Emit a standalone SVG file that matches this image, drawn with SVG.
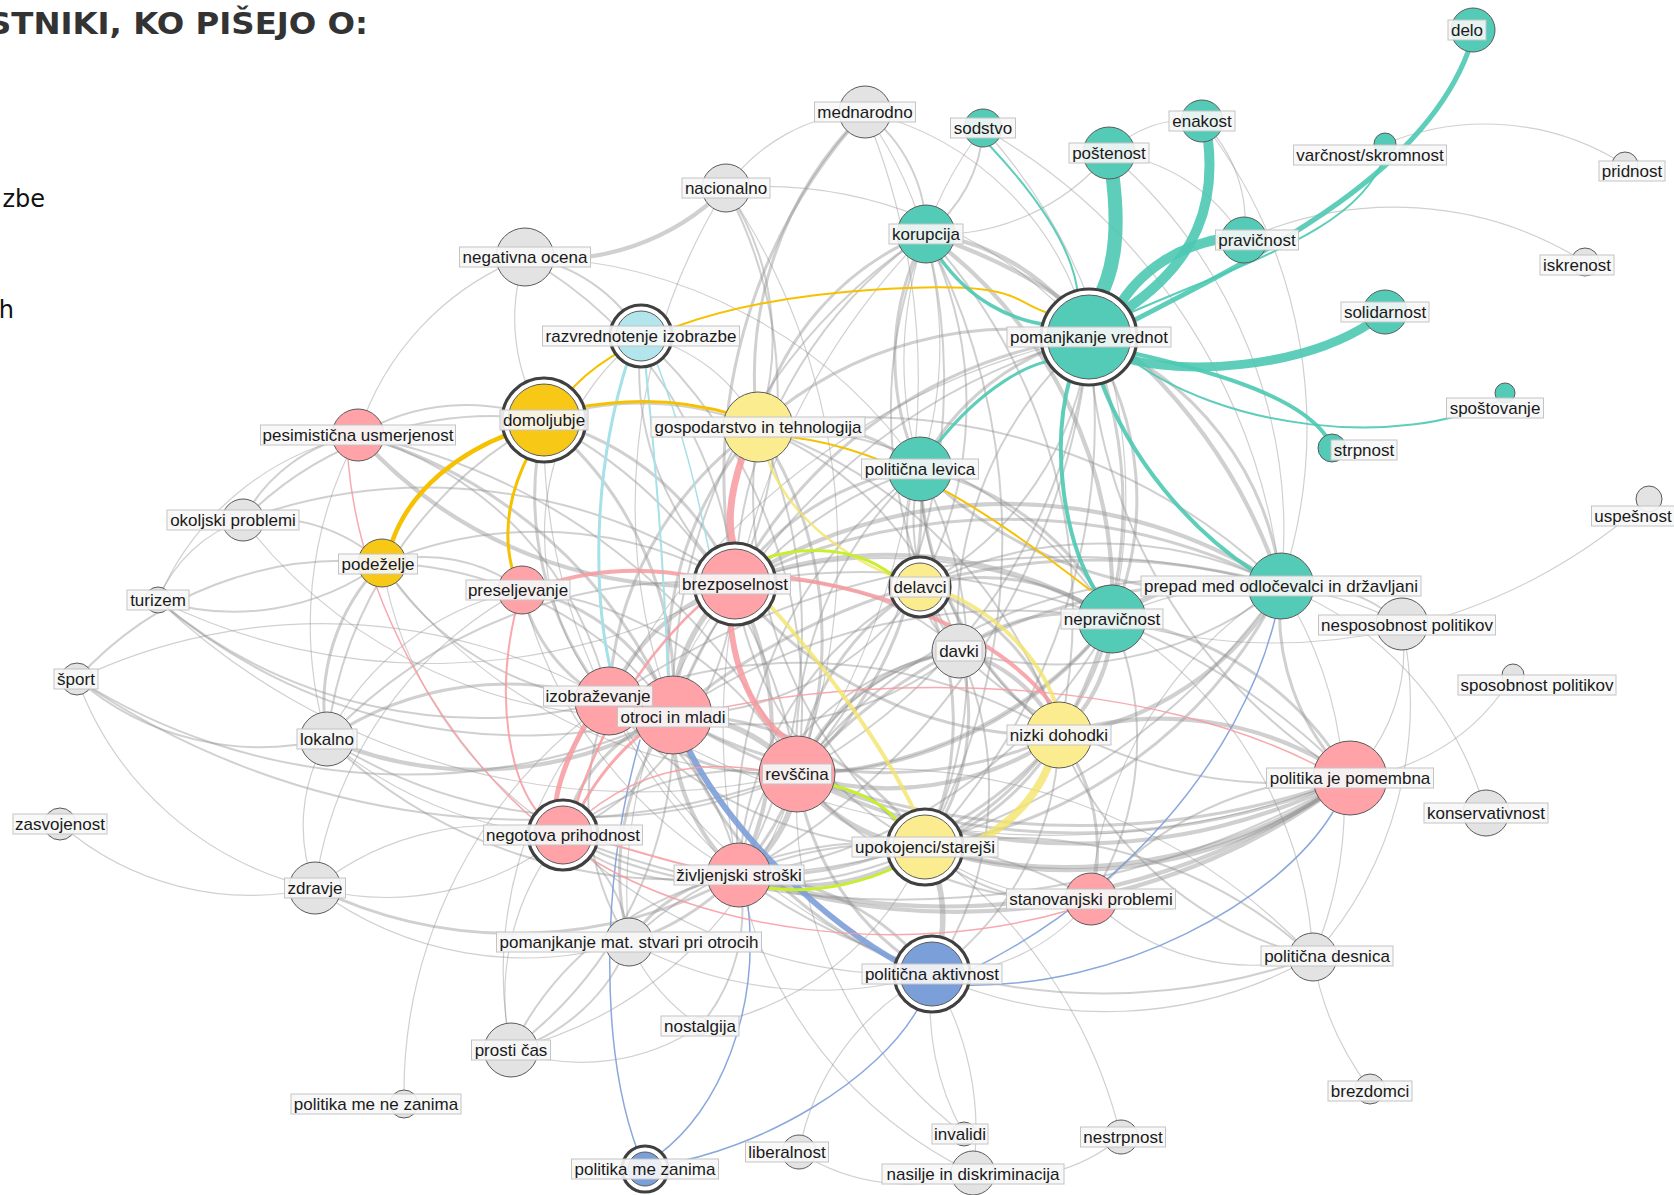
<svg xmlns="http://www.w3.org/2000/svg" width="1674" height="1195" viewBox="0 0 1674 1195">
<style>
.e{fill:none;stroke:#8e8e8e;stroke-opacity:.42}
.g1{stroke-width:1.2}.g2{stroke-width:2}.g3{stroke-width:3}.g4{stroke-width:4.2}.g5{stroke-width:5.5}
.c{fill:none;stroke-linecap:round}
.teal-e{stroke:#4cc9b3;stroke-opacity:.9}
.pink-e{stroke:#f79aa0;stroke-opacity:.85}
.gold-e{stroke:#f5c100}
.ylw-e{stroke:#f2e36a;stroke-opacity:.8}
.lime-e{stroke:#c6ef2d}
.blue-e{stroke:#7d9fd8;stroke-opacity:.9}
.lb-e{stroke:#a6e0e8}
.n{stroke:#5a5a5a;stroke-width:1}
.teal{fill:#53cbb7}.pink{fill:#ffa3a8}.ylw{fill:#fbec90}.gold{fill:#f7c815}.lblue{fill:#b3e5ec}.blue{fill:#7b9fd9}.grey{fill:#e3e3e3}
.ring{fill:#fff;stroke:#404040;stroke-width:3.2}
.lb{fill:#f7f7f7;fill-opacity:.9;stroke:#c4c4c4;stroke-width:1}
.t{font-family:"Liberation Sans",Arial,sans-serif;font-size:17px;fill:#1a1a1a;text-anchor:middle}
</style>
<defs>
<clipPath id="clipIzobr"><path clip-rule="evenodd" d="M0 0H1674V1195H0Z M617 707H729V727H617Z"/></clipPath>
</defs>
<rect width="1674" height="1195" fill="#fff"/>
<text x="-12" y="34" textLength="380" lengthAdjust="spacingAndGlyphs" font-family="DejaVu Sans,Verdana,sans-serif" font-weight="bold" font-size="30" fill="#333">STNIKI, KO PIŠEJO O:</text>
<text x="45" y="207" text-anchor="end" font-family="DejaVu Sans,Verdana,sans-serif" font-size="24" fill="#111">zbe</text>
<text x="14" y="318" text-anchor="end" font-family="DejaVu Sans,Verdana,sans-serif" font-size="24" fill="#111">h</text>
<g id="connectors">
<g class="e g1">
<path d="M932 974A200 200 0 0 0 1091 899"/>
<path d="M932 974A420 420 0 0 0 1313 957"/>
<path d="M563 835A280 280 0 0 0 315 888"/>
<path d="M563 835A280 280 0 0 1 315 888"/>
<path d="M563 835A250 250 0 0 0 511 1050"/>
<path d="M629 942A350 350 0 0 1 315 888"/>
<path d="M511 1050A210 210 0 0 0 700 1026"/>
<path d="M511 1050A400 400 0 0 0 797 774"/>
<path d="M700 1026A300 300 0 0 0 925 847"/>
<path d="M544 420A190 190 0 0 1 525 257"/>
<path d="M358 435A280 280 0 0 0 158 600"/>
<path d="M358 435A280 280 0 0 1 525 257"/>
<path d="M243 520A140 140 0 0 0 158 600"/>
<path d="M158 600A620 620 0 0 0 735 584"/>
<path d="M77 679A330 330 0 0 0 315 888"/>
<path d="M77 679A570 570 0 0 1 609 701"/>
<path d="M327 739A280 280 0 0 1 522 590"/>
<path d="M60 824A290 290 0 0 0 315 888"/>
<path d="M315 888A170 170 0 0 1 327 739"/>
<path d="M315 888A400 400 0 0 1 522 590"/>
<path d="M525 257A490 490 0 0 1 920 469"/>
<path d="M726 188A180 180 0 0 1 865 112"/>
<path d="M726 188A640 640 0 0 1 797 774"/>
<path d="M726 188A430 430 0 0 1 1089 337"/>
<path d="M865 112A400 400 0 0 1 920 469"/>
<path d="M926 234A220 220 0 0 0 1109 153"/>
<path d="M983 128A380 380 0 0 0 920 469"/>
<path d="M983 128A550 550 0 0 1 1112 619"/>
<path d="M983 128A600 600 0 0 1 1281 586"/>
<path d="M1109 153A110 110 0 0 1 1202 121"/>
<path d="M1109 153A180 180 0 0 1 1244 240"/>
<path d="M1109 153A500 500 0 0 1 1281 586"/>
<path d="M1202 121A140 140 0 0 1 1244 240"/>
<path d="M1202 121A500 500 0 0 1 1281 586"/>
<path d="M1244 240A360 360 0 0 1 1585 262"/>
<path d="M1385 144A260 260 0 0 1 1625 165"/>
<path d="M641 336A170 170 0 0 1 758 427"/>
<path d="M1281 586A340 340 0 0 1 1486 813"/>
<path d="M1281 586A400 400 0 0 1 1313 957"/>
<path d="M1402 624A180 180 0 0 1 1350 778"/>
<path d="M1402 624A320 320 0 0 0 1112 619"/>
<path d="M1402 624A380 380 0 0 1 1313 957"/>
<path d="M1513 675A210 210 0 0 1 1350 778"/>
<path d="M1649 499A560 560 0 0 1 1112 619"/>
<path d="M1313 957A300 300 0 0 0 1370 1089"/>
<path d="M1313 957A420 420 0 0 0 1112 619"/>
<path d="M1313 957A600 600 0 0 0 797 774"/>
<path d="M964 1134A420 420 0 0 1 797 774"/>
<path d="M973 1173A430 430 0 0 1 739 875"/>
<path d="M973 1173A200 200 0 0 1 799 1152"/>
<path d="M1121 1137A170 170 0 0 1 973 1173"/>
<path d="M404 1104A480 480 0 0 1 609 701"/>
<path d="M1350 778A800 800 0 0 1 609 701"/>
<path d="M926 234A700 700 0 0 0 739 875"/>
<path d="M1089 337A700 700 0 0 0 609 701"/>
<path d="M609 701A600 600 0 0 0 932 974"/>
<path d="M609 701A400 400 0 0 0 511 1050"/>
<path d="M629 942A500 500 0 0 1 735 584"/>
<path d="M629 942A200 200 0 0 0 700 1026"/>
<path d="M1091 899A400 400 0 0 1 1281 586"/>
<path d="M1091 899A230 230 0 0 0 1313 957"/>
<path d="M932 974A500 500 0 0 1 563 835"/>
<path d="M932 974A400 400 0 0 1 629 942"/>
<path d="M932 974A250 250 0 0 0 799 1152"/>
<path d="M932 974A300 300 0 0 1 973 1173"/>
<path d="M932 974A260 260 0 0 0 964 1134"/>
<path d="M327 739A400 400 0 0 0 563 835"/>
<path d="M158 600A700 700 0 0 0 797 774"/>
<path d="M382 563A500 500 0 0 0 797 774"/>
<path d="M382 563A400 400 0 0 0 563 835"/>
<path d="M522 590A450 450 0 0 0 739 875"/>
<path d="M544 420A600 600 0 0 0 739 875"/>
<path d="M358 435A400 400 0 0 0 327 739"/>
<path d="M243 520A500 500 0 0 0 673 715"/>
<path d="M641 336A250 250 0 0 0 609 701"/>
<path d="M726 188A600 600 0 0 0 673 715"/>
<path d="M865 112A700 700 0 0 1 797 774"/>
<path d="M865 112A300 300 0 0 1 1089 337"/>
<path d="M1091 899A260 260 0 0 1 925 847"/>
<path d="M1121 1137A500 500 0 0 0 925 847"/>
</g>
<g class="e g2">
<path d="M1089 337A560 560 0 0 1 797 774"/>
<path d="M1089 337A370 370 0 0 0 959 651"/>
<path d="M758 427A340 340 0 0 1 959 651"/>
<path d="M758 427A470 470 0 0 1 1059 735"/>
<path d="M735 584A260 260 0 0 1 959 651"/>
<path d="M673 715A400 400 0 0 1 511 1050"/>
<path d="M609 701A240 240 0 0 1 739 875"/>
<path d="M797 774A350 350 0 0 0 1091 899"/>
<path d="M739 875A200 200 0 0 1 563 835"/>
<path d="M739 875A320 320 0 0 0 511 1050"/>
<path d="M739 875A390 390 0 0 1 1091 899"/>
<path d="M739 875A620 620 0 0 0 1313 957"/>
<path d="M739 875A180 180 0 0 1 700 1026"/>
<path d="M925 847A200 200 0 0 0 1091 899"/>
<path d="M925 847A440 440 0 0 1 1313 957"/>
<path d="M1059 735A370 370 0 0 0 1313 957"/>
<path d="M920 587A140 140 0 0 1 920 469"/>
<path d="M920 587A90 90 0 0 0 959 651"/>
<path d="M1091 899A330 330 0 0 1 1350 778"/>
<path d="M563 835A140 140 0 0 1 629 942"/>
<path d="M629 942A180 180 0 0 1 511 1050"/>
<path d="M544 420A210 210 0 0 0 358 435"/>
<path d="M544 420A420 420 0 0 0 327 739"/>
<path d="M544 420A350 350 0 0 0 243 520"/>
<path d="M544 420A480 480 0 0 1 797 774"/>
<path d="M358 435A160 160 0 0 0 243 520"/>
<path d="M358 435A620 620 0 0 1 797 774"/>
<path d="M243 520A170 170 0 0 1 382 563"/>
<path d="M243 520A540 540 0 0 1 735 584"/>
<path d="M382 563A250 250 0 0 1 158 600"/>
<path d="M382 563A360 360 0 0 0 77 679"/>
<path d="M382 563A160 160 0 0 1 522 590"/>
<path d="M382 563A370 370 0 0 1 673 715"/>
<path d="M382 563A300 300 0 0 0 609 701"/>
<path d="M158 600A560 560 0 0 0 673 715"/>
<path d="M77 679A280 280 0 0 0 327 739"/>
<path d="M77 679A620 620 0 0 0 673 715"/>
<path d="M327 739A500 500 0 0 0 797 774"/>
<path d="M525 257A160 160 0 0 1 641 336"/>
<path d="M525 257A420 420 0 0 1 735 584"/>
<path d="M726 188A270 270 0 0 1 758 427"/>
<path d="M726 188A440 440 0 0 1 735 584"/>
<path d="M865 112A150 150 0 0 1 926 234"/>
<path d="M926 234A140 140 0 0 0 983 128"/>
<path d="M926 234A440 440 0 0 0 735 584"/>
<path d="M926 234A600 600 0 0 1 797 774"/>
<path d="M926 234A560 560 0 0 1 1059 735"/>
<path d="M926 234A380 380 0 0 1 920 587"/>
<path d="M926 234A460 460 0 0 0 959 651"/>
<path d="M641 336A290 290 0 0 0 735 584"/>
<path d="M641 336A500 500 0 0 1 797 774"/>
<path d="M1089 337A620 620 0 0 1 925 847"/>
<path d="M1089 337A680 680 0 0 1 739 875"/>
<path d="M1089 337A540 540 0 0 0 1350 778"/>
<path d="M1089 337A320 320 0 0 1 920 587"/>
<path d="M920 469A210 210 0 0 0 959 651"/>
<path d="M920 469A420 420 0 0 1 925 847"/>
<path d="M920 469A380 380 0 0 0 673 715"/>
<path d="M1281 586A150 150 0 0 1 1402 624"/>
<path d="M1281 586A680 680 0 0 1 739 875"/>
<path d="M1281 586A360 360 0 0 1 959 651"/>
<path d="M1350 778A680 680 0 0 0 735 584"/>
<path d="M1350 778A460 460 0 0 1 959 651"/>
<path d="M735 584A450 450 0 0 1 1112 619"/>
<path d="M797 774A500 500 0 0 1 1281 586"/>
<path d="M797 774A220 220 0 0 1 959 651"/>
<path d="M563 835A900 900 0 0 0 1350 778"/>
<path d="M1059 735A300 300 0 0 1 932 974"/>
<path d="M1112 619A500 500 0 0 1 739 875"/>
<path d="M1112 619A600 600 0 0 0 673 715"/>
<path d="M1281 586A800 800 0 0 0 609 701"/>
<path d="M797 774A380 380 0 0 1 920 469"/>
<path d="M920 469A450 450 0 0 0 739 875"/>
<path d="M920 469A330 330 0 0 0 1059 735"/>
<path d="M758 427A500 500 0 0 1 739 875"/>
<path d="M758 427A450 450 0 0 0 925 847"/>
<path d="M758 427A420 420 0 0 1 1112 619"/>
<path d="M758 427A600 600 0 0 1 1281 586"/>
<path d="M926 234A650 650 0 0 1 925 847"/>
<path d="M926 234A560 560 0 0 0 673 715"/>
<path d="M1089 337A620 620 0 0 0 673 715"/>
<path d="M959 651A260 260 0 0 0 739 875"/>
<path d="M959 651A330 330 0 0 1 673 715"/>
<path d="M959 651A330 330 0 0 1 932 974"/>
<path d="M920 587A340 340 0 0 0 739 875"/>
<path d="M920 587A300 300 0 0 1 673 715"/>
<path d="M920 587A400 400 0 0 1 1281 586"/>
<path d="M609 701A500 500 0 0 1 1059 735"/>
<path d="M609 701A400 400 0 0 0 925 847"/>
<path d="M609 701A260 260 0 0 0 629 942"/>
<path d="M563 835A300 300 0 0 1 797 774"/>
<path d="M563 835A300 300 0 0 0 735 584"/>
<path d="M563 835A400 400 0 0 0 925 847"/>
<path d="M629 942A350 350 0 0 1 925 847"/>
<path d="M1091 899A300 300 0 0 0 1112 619"/>
<path d="M327 739A500 500 0 0 0 739 875"/>
<path d="M327 739A500 500 0 0 1 735 584"/>
<path d="M77 679A800 800 0 0 0 797 774"/>
<path d="M158 600A500 500 0 0 0 609 701"/>
<path d="M382 563A400 400 0 0 1 735 584"/>
<path d="M522 590A350 350 0 0 1 797 774"/>
<path d="M358 435A350 350 0 0 1 609 701"/>
<path d="M544 420A300 300 0 0 1 758 427"/>
<path d="M735 584A350 350 0 0 0 925 847"/>
</g>
<g class="e g3">
<path d="M926 234A260 260 0 0 0 920 469"/>
<path d="M920 469A280 280 0 0 1 1112 619"/>
<path d="M920 469A420 420 0 0 0 1281 586"/>
<path d="M758 427A190 190 0 0 1 920 469"/>
<path d="M959 651A220 220 0 0 1 925 847"/>
<path d="M1350 778A230 230 0 0 1 1281 586"/>
<path d="M1350 778A320 320 0 0 0 1112 619"/>
<path d="M1281 586A580 580 0 0 0 797 774"/>
<path d="M1281 586A480 480 0 0 1 925 847"/>
<path d="M1112 619A400 400 0 0 1 797 774"/>
<path d="M1112 619A180 180 0 0 0 959 651"/>
<path d="M1089 337A250 250 0 0 0 920 469"/>
<path d="M1089 337A470 470 0 0 0 735 584"/>
<path d="M1089 337A380 380 0 0 0 758 427"/>
<path d="M1089 337A440 440 0 0 1 1059 735"/>
<path d="M758 427A380 380 0 0 1 797 774"/>
<path d="M758 427A340 340 0 0 0 673 715"/>
<path d="M758 427A350 350 0 0 0 609 701"/>
<path d="M735 584A280 280 0 0 0 544 420"/>
<path d="M673 715A420 420 0 0 0 1059 735"/>
<path d="M673 715A300 300 0 0 1 925 847"/>
<path d="M673 715A260 260 0 0 0 629 942"/>
<path d="M609 701A320 320 0 0 0 327 739"/>
<path d="M609 701A160 160 0 0 1 522 590"/>
<path d="M609 701A230 230 0 0 0 797 774"/>
<path d="M609 701A320 320 0 0 1 544 420"/>
<path d="M797 774A250 250 0 0 1 920 587"/>
<path d="M797 774A260 260 0 0 1 629 942"/>
<path d="M797 774A360 360 0 0 0 920 469"/>
<path d="M739 875A390 390 0 0 0 1059 735"/>
<path d="M739 875A150 150 0 0 0 629 942"/>
<path d="M739 875A460 460 0 0 1 315 888"/>
<path d="M925 847A290 290 0 0 0 920 587"/>
<path d="M1059 735A190 190 0 0 1 1091 899"/>
<path d="M1059 735A340 340 0 0 1 920 469"/>
<path d="M920 587A220 220 0 0 1 1112 619"/>
<path d="M932 974A270 270 0 0 1 797 774"/>
<path d="M544 420A350 350 0 0 1 673 715"/>
<path d="M358 435A480 480 0 0 1 673 715"/>
<path d="M382 563A200 200 0 0 0 327 739"/>
<path d="M865 112A370 370 0 0 0 758 427"/>
<path d="M865 112A540 540 0 0 0 735 584"/>
<path d="M926 234A280 280 0 0 0 758 427"/>
<path d="M920 469A260 260 0 0 0 735 584"/>
<path d="M1281 586A660 660 0 0 0 673 715"/>
<path d="M735 584A400 400 0 0 0 1059 735"/>
<path d="M735 584A600 600 0 0 1 1281 586"/>
<path d="M797 774A420 420 0 0 0 1112 619"/>
<path d="M797 774A700 700 0 0 0 1350 778"/>
<path d="M673 715A800 800 0 0 0 1350 778"/>
<path d="M1059 735A250 250 0 0 1 925 847"/>
<path d="M1112 619A350 350 0 0 1 925 847"/>
<path d="M1089 337A300 300 0 0 1 1112 619"/>
<path d="M1089 337A300 300 0 0 1 1281 586"/>
<path d="M920 587A200 200 0 0 1 1059 735"/>
<path d="M673 715A400 400 0 0 0 932 974"/>
<path d="M563 835A160 160 0 0 1 673 715"/>
<path d="M932 974A250 250 0 0 0 739 875"/>
<path d="M522 590A200 200 0 0 1 673 715"/>
</g>
<g class="e g4">
<path d="M673 715A200 200 0 0 0 739 875"/>
<path d="M797 774A300 300 0 0 0 1059 735"/>
<path d="M926 234A220 220 0 0 1 1089 337"/>
<path d="M926 234A450 450 0 0 1 1112 619"/>
<path d="M926 234A550 550 0 0 1 1281 586"/>
<path d="M959 651A150 150 0 0 1 1059 735"/>
<path d="M959 651A210 210 0 0 0 797 774"/>
<path d="M925 847A210 210 0 0 1 739 875"/>
<path d="M1350 778A330 330 0 0 0 1059 735"/>
<path d="M1350 778A600 600 0 0 1 797 774"/>
<path d="M1350 778A470 470 0 0 1 925 847"/>
<path d="M1281 586A300 300 0 0 1 1059 735"/>
<path d="M1281 586A500 500 0 0 0 735 584"/>
<path d="M1112 619A420 420 0 0 0 735 584"/>
<path d="M1112 619A150 150 0 0 1 1059 735"/>
<path d="M735 584A200 200 0 0 0 609 701"/>
<path d="M735 584A320 320 0 0 1 739 875"/>
<path d="M735 584A450 450 0 0 1 358 435"/>
<path d="M673 715A380 380 0 0 1 327 739"/>
<path d="M609 701A80 80 0 0 1 673 715"/>
<path d="M525 257A240 240 0 0 0 726 188"/>
<path d="M739 875A700 700 0 0 0 1350 778"/>
<path d="M925 847A500 500 0 0 0 1350 778"/>
<path d="M1350 778A650 650 0 0 1 739 875"/>
</g>
<g class="e g5">
<path d="M673 715A160 160 0 0 1 797 774"/>
<path d="M797 774A130 130 0 0 1 739 875"/>
<path d="M797 774A170 170 0 0 0 925 847"/>
<path d="M1112 619A200 200 0 0 1 1281 586"/>
<path d="M925 847A150 150 0 0 1 932 974"/>
<path d="M735 584A170 170 0 0 0 673 715"/>
</g>
<g class="c lb-e">
<path stroke-width="3" d="M628 360C590 480 595 600 610 667"/>
<path stroke-width="2" d="M645 361C660 500 665 600 668 676"/>
<path stroke-width="1.5" d="M655 358C690 450 700 510 710 555"/>
</g>
<g class="c blue-e">
<path stroke-width="6" d="M690 752C730 830 820 920 905 966"/>
<path stroke-width="1.5" d="M920 1005C880 1080 760 1150 660 1165"/>
<path stroke-width="1.5" d="M640 740C600 880 600 1050 638 1152"/>
<path stroke-width="1.5" d="M748 905C760 1010 720 1110 658 1155"/>
<path stroke-width="1.5" d="M1275 619C1240 760 1120 900 960 975"/>
<path stroke-width="1.5" d="M1333 812C1280 900 1120 990 960 985"/>
</g>
<g class="c pink-e">
<path stroke-width="7" d="M742 458C728 500 728 530 735 550"/>
<path stroke-width="6" d="M730 618C735 680 760 720 785 738"/>
<path stroke-width="4" d="M768 575C900 590 1000 640 1050 702"/>
<path stroke-width="4" d="M702 578C640 565 590 570 545 585"/>
<path stroke-width="2.5" d="M575 808C610 700 660 640 705 600"/>
<path stroke-width="5" d="M585 725C560 770 555 800 556 808"/>
<path stroke-width="2" d="M515 614C495 700 510 780 540 815"/>
<path stroke-width="1.5" d="M348 460C360 600 440 740 540 825"/>
<path stroke-width="3" d="M640 735C610 760 590 790 580 810"/>
<path stroke-width="1.5" d="M710 710C900 670 1150 680 1316 765"/>
<path stroke-width="1.5" d="M585 855C700 930 900 960 1070 910"/>
<path stroke-width="2" d="M708 870C660 860 620 845 592 840"/>
<path stroke-width="1.5" d="M585 815C640 770 700 760 760 770"/>
</g>
<g class="c ylw-e">
<path stroke-width="2.5" d="M768 460C790 520 850 560 898 578"/>
<path stroke-width="4" d="M765 600C820 660 880 740 915 812"/>
<path stroke-width="4" d="M944 592C1000 615 1040 660 1055 702"/>
<path stroke-width="8" d="M1048 767C1030 810 990 840 955 850"/>
</g>
<g class="c lime-e">
<path stroke-width="3" d="M760 560C800 545 860 545 898 580"/>
<path stroke-width="3" d="M832 785C870 795 890 810 900 825"/>
<path stroke-width="3" d="M768 888C820 895 870 880 900 865"/>
</g>
<g class="c gold-e">
<path stroke-width="2" d="M566 396C610 340 720 300 870 290S1010 300 1045 312"/>
<path stroke-width="4.5" d="M520 430C460 450 410 490 392 542"/>
<path stroke-width="3" d="M530 452C505 500 505 540 512 568"/>
<path stroke-width="3" d="M575 408Q660 392 735 415"/>
<path stroke-width="2" d="M790 437C900 450 1000 520 1090 590"/>
</g>
<g class="c teal-e">
<path stroke-width="14" d="M1112 172C1120 230 1115 270 1098 300"/>
<path stroke-width="10" d="M1208 140C1215 200 1200 260 1125 310"/>
<path stroke-width="10" d="M1225 238C1180 245 1140 270 1118 308"/>
<path stroke-width="9" d="M1125 358C1180 375 1300 370 1372 322"/>
<path stroke-width="5" d="M1125 325C1250 260 1420 180 1468 52"/>
<path stroke-width="2" d="M1118 318C1250 260 1360 230 1385 155"/>
<path stroke-width="4" d="M1128 352C1230 375 1300 400 1326 436"/>
<path stroke-width="2" d="M1125 355C1220 430 1400 450 1500 400"/>
<path stroke-width="3.5" d="M940 258C970 300 1010 320 1048 325"/>
<path stroke-width="2" d="M990 146C1050 210 1075 260 1078 296"/>
<path stroke-width="3" d="M938 443C980 390 1030 360 1060 360"/>
<path stroke-width="4" d="M1070 378C1050 450 1065 540 1095 590"/>
<path stroke-width="4" d="M1100 378C1130 460 1190 530 1255 572"/>
</g>
</g>
<g id="nodes">
<g id="node-pomanjkanje-vrednot"><circle class="ring" cx="1089" cy="337" r="48"/><circle class="n teal" cx="1089" cy="337" r="42"/><rect class="lb" x="1007" y="327" width="164" height="20"/><text class="t" x="1089" y="343">pomanjkanje vrednot</text></g>
<g id="node-otroci-in-mladi"><circle class="n pink" cx="673" cy="715" r="39"/><rect class="lb" x="617.5" y="707" width="111" height="20"/><text class="t" x="673" y="723">otroci in mladi</text></g>
<g id="node-izobrazevanje"><circle class="n pink" cx="609" cy="701" r="34" clip-path="url(#clipIzobr)"/><rect class="lb" x="543.5" y="686" width="109" height="20"/><text class="t" x="598" y="702">izobraževanje</text></g>
<g id="node-revscina"><circle class="n pink" cx="797" cy="774" r="38"/><rect class="lb" x="762.5" y="764" width="69" height="20"/><text class="t" x="797" y="780">revščina</text></g>
<g id="node-politika-je-pomembna"><circle class="n pink" cx="1350" cy="778" r="37"/><rect class="lb" x="1266.5" y="768" width="167" height="20"/><text class="t" x="1350" y="784">politika je pomembna</text></g>
<g id="node-gospodarstvo"><circle class="n ylw" cx="758" cy="427" r="35"/><rect class="lb" x="651" y="417" width="214" height="20"/><text class="t" x="758" y="433">gospodarstvo in tehnologija</text></g>
<g id="node-brezposelnost"><circle class="ring" cx="735" cy="584" r="41"/><circle class="n pink" cx="735" cy="584" r="35"/><rect class="lb" x="679.5" y="574" width="111" height="20"/><text class="t" x="735" y="590">brezposelnost</text></g>
<g id="node-domoljubje"><circle class="ring" cx="544" cy="420" r="42"/><circle class="n gold" cx="544" cy="420" r="36"/><rect class="lb" x="500" y="410" width="88" height="20"/><text class="t" x="544" y="426">domoljubje</text></g>
<g id="node-nepravicnost"><circle class="n teal" cx="1112" cy="619" r="34"/><rect class="lb" x="1061" y="609" width="102" height="20"/><text class="t" x="1112" y="625">nepravičnost</text></g>
<g id="node-prepad"><circle class="n teal" cx="1281" cy="586" r="33"/><rect class="lb" x="1141" y="576" width="280" height="20"/><text class="t" x="1281" y="592">prepad med odločevalci in državljani</text></g>
<g id="node-nizki-dohodki"><circle class="n ylw" cx="1059" cy="735" r="33"/><rect class="lb" x="1007" y="725" width="104" height="20"/><text class="t" x="1059" y="741">nizki dohodki</text></g>
<g id="node-politicna-levica"><circle class="n teal" cx="920" cy="469" r="32"/><rect class="lb" x="861.5" y="459" width="117" height="20"/><text class="t" x="920" y="475">politična levica</text></g>
<g id="node-upokojenci"><circle class="ring" cx="925" cy="847" r="38"/><circle class="n ylw" cx="925" cy="847" r="32"/><rect class="lb" x="852" y="837" width="146" height="20"/><text class="t" x="925" y="853">upokojenci/starejši</text></g>
<g id="node-zivljenjski-stroski"><circle class="n pink" cx="739" cy="875" r="32"/><rect class="lb" x="674" y="865" width="130" height="20"/><text class="t" x="739" y="881">življenjski stroški</text></g>
<g id="node-politicna-aktivnost"><circle class="ring" cx="932" cy="974" r="38"/><circle class="n blue" cx="932" cy="974" r="32"/><rect class="lb" x="862" y="964" width="140" height="20"/><text class="t" x="932" y="980">politična aktivnost</text></g>
<g id="node-korupcija"><circle class="n teal" cx="926" cy="234" r="29"/><rect class="lb" x="889" y="224" width="74" height="20"/><text class="t" x="926" y="240">korupcija</text></g>
<g id="node-negativna-ocena"><circle class="n grey" cx="525" cy="257" r="29"/><rect class="lb" x="459.5" y="247" width="131" height="20"/><text class="t" x="525" y="263">negativna ocena</text></g>
<g id="node-negotova-prihodnost"><circle class="ring" cx="563" cy="835" r="35"/><circle class="n pink" cx="563" cy="835" r="29"/><rect class="lb" x="483.5" y="825" width="159" height="20"/><text class="t" x="563" y="841">negotova prihodnost</text></g>
<g id="node-davki"><circle class="n grey" cx="959" cy="651" r="27"/><rect class="lb" x="936" y="641" width="46" height="20"/><text class="t" x="959" y="657">davki</text></g>
<g id="node-lokalno"><circle class="n grey" cx="327" cy="739" r="27"/><rect class="lb" x="297" y="729" width="60" height="20"/><text class="t" x="327" y="745">lokalno</text></g>
<g id="node-prosti-cas"><circle class="n grey" cx="511" cy="1050" r="27"/><rect class="lb" x="471.5" y="1040" width="79" height="20"/><text class="t" x="511" y="1056">prosti čas</text></g>
<g id="node-postenost"><circle class="n teal" cx="1109" cy="153" r="26"/><rect class="lb" x="1069" y="143" width="80" height="20"/><text class="t" x="1109" y="159">poštenost</text></g>
<g id="node-mednarodno"><circle class="n grey" cx="865" cy="112" r="26"/><rect class="lb" x="814.5" y="102" width="101" height="20"/><text class="t" x="865" y="118">mednarodno</text></g>
<g id="node-pesimisticna"><circle class="n pink" cx="358" cy="435" r="26"/><rect class="lb" x="260.5" y="425" width="195" height="20"/><text class="t" x="358" y="441">pesimistična usmerjenost</text></g>
<g id="node-nesposobnost"><circle class="n grey" cx="1402" cy="624" r="26"/><rect class="lb" x="1318.5" y="615" width="177" height="20"/><text class="t" x="1407" y="631">nesposobnost politikov</text></g>
<g id="node-zdravje"><circle class="n grey" cx="315" cy="888" r="26"/><rect class="lb" x="284.5" y="878" width="61" height="20"/><text class="t" x="315" y="894">zdravje</text></g>
<g id="node-stanovanjski"><circle class="n pink" cx="1091" cy="899" r="26"/><rect class="lb" x="1006.5" y="889" width="169" height="20"/><text class="t" x="1091" y="905">stanovanjski problemi</text></g>
<g id="node-razvrednotenje"><circle class="ring" cx="641" cy="336" r="31"/><circle class="n lblue" cx="641" cy="336" r="25"/><rect class="lb" x="542.5" y="326" width="197" height="20"/><text class="t" x="641" y="342">razvrednotenje izobrazbe</text></g>
<g id="node-nacionalno"><circle class="n grey" cx="726" cy="188" r="24"/><rect class="lb" x="682" y="178" width="88" height="20"/><text class="t" x="726" y="194">nacionalno</text></g>
<g id="node-podezelje"><circle class="n gold" cx="382" cy="563" r="24"/><rect class="lb" x="338.5" y="554" width="79" height="20"/><text class="t" x="378" y="570">podeželje</text></g>
<g id="node-preseljevanje"><circle class="n pink" cx="522" cy="590" r="24"/><rect class="lb" x="466" y="580" width="104" height="20"/><text class="t" x="518" y="596">preseljevanje</text></g>
<g id="node-delavci"><circle class="ring" cx="920" cy="587" r="30"/><circle class="n ylw" cx="920" cy="587" r="24"/><rect class="lb" x="890.5" y="577" width="59" height="20"/><text class="t" x="920" y="593">delavci</text></g>
<g id="node-pomanjkanje-mat"><circle class="n grey" cx="629" cy="942" r="24"/><rect class="lb" x="496.5" y="932" width="265" height="20"/><text class="t" x="629" y="948">pomanjkanje mat. stvari pri otrocih</text></g>
<g id="node-politicna-desnica"><circle class="n grey" cx="1313" cy="957" r="24"/><rect class="lb" x="1261" y="946" width="132" height="20"/><text class="t" x="1327" y="962">politična desnica</text></g>
<g id="node-pravicnost"><circle class="n teal" cx="1244" cy="240" r="23"/><rect class="lb" x="1215.5" y="230" width="83" height="20"/><text class="t" x="1257" y="246">pravičnost</text></g>
<g id="node-konservativnost"><circle class="n grey" cx="1486" cy="813" r="23"/><rect class="lb" x="1424" y="803" width="124" height="20"/><text class="t" x="1486" y="819">konservativnost</text></g>
<g id="node-solidarnost"><circle class="n teal" cx="1385" cy="312" r="22"/><rect class="lb" x="1341" y="302" width="88" height="20"/><text class="t" x="1385" y="318">solidarnost</text></g>
<g id="node-delo"><circle class="n teal" cx="1473" cy="30" r="22"/><rect class="lb" x="1448" y="20" width="38" height="20"/><text class="t" x="1467" y="36">delo</text></g>
<g id="node-nasilje"><circle class="n grey" cx="973" cy="1173" r="22"/><rect class="lb" x="882" y="1164" width="182" height="20"/><text class="t" x="973" y="1180">nasilje in diskriminacija</text></g>
<g id="node-enakost"><circle class="n teal" cx="1202" cy="121" r="21"/><rect class="lb" x="1169" y="111" width="66" height="20"/><text class="t" x="1202" y="127">enakost</text></g>
<g id="node-okoljski"><circle class="n grey" cx="243" cy="520" r="21"/><rect class="lb" x="167" y="510" width="132" height="20"/><text class="t" x="233" y="526">okoljski problemi</text></g>
<g id="node-sodstvo"><circle class="n teal" cx="983" cy="128" r="19"/><rect class="lb" x="950.5" y="118" width="65" height="20"/><text class="t" x="983" y="134">sodstvo</text></g>
<g id="node-politika-me-zanima"><circle class="ring" cx="645" cy="1169" r="23"/><circle class="n blue" cx="645" cy="1169" r="17"/><rect class="lb" x="571.5" y="1159" width="147" height="20"/><text class="t" x="645" y="1175">politika me zanima</text></g>
<g id="node-nestrpnost"><circle class="n grey" cx="1121" cy="1137" r="17"/><rect class="lb" x="1080.5" y="1127" width="85" height="20"/><text class="t" x="1123" y="1143">nestrpnost</text></g>
<g id="node-liberalnost"><circle class="n grey" cx="799" cy="1152" r="17"/><rect class="lb" x="745.5" y="1142" width="83" height="20"/><text class="t" x="787" y="1158">liberalnost</text></g>
<g id="node-sport"><circle class="n grey" cx="77" cy="679" r="16"/><rect class="lb" x="54" y="669" width="44" height="20"/><text class="t" x="76" y="685">šport</text></g>
<g id="node-zasvojenost"><circle class="n grey" cx="60" cy="824" r="16"/><rect class="lb" x="13" y="814" width="94" height="20"/><text class="t" x="60" y="830">zasvojenost</text></g>
<g id="node-brezdomci"><circle class="n grey" cx="1370" cy="1089" r="15"/><rect class="lb" x="1328" y="1081" width="84" height="20"/><text class="t" x="1370" y="1097">brezdomci</text></g>
<g id="node-strpnost"><circle class="n teal" cx="1332" cy="448" r="14"/><rect class="lb" x="1331" y="440" width="66" height="20"/><text class="t" x="1364" y="456">strpnost</text></g>
<g id="node-iskrenost"><circle class="n grey" cx="1585" cy="262" r="14"/><rect class="lb" x="1540" y="255" width="74" height="20"/><text class="t" x="1577" y="271">iskrenost</text></g>
<g id="node-politika-me-ne-zanima"><circle class="n grey" cx="404" cy="1104" r="14"/><rect class="lb" x="291" y="1094" width="170" height="20"/><text class="t" x="376" y="1110">politika me ne zanima</text></g>
<g id="node-turizem"><circle class="n grey" cx="158" cy="600" r="13"/><rect class="lb" x="127" y="590" width="62" height="20"/><text class="t" x="158" y="606">turizem</text></g>
<g id="node-uspesnost"><circle class="n grey" cx="1649" cy="499" r="13"/><rect class="lb" x="1591.5" y="506" width="83" height="20"/><text class="t" x="1633" y="522">uspešnost</text></g>
<g id="node-pridnost"><circle class="n grey" cx="1625" cy="165" r="13"/><rect class="lb" x="1599" y="161" width="66" height="20"/><text class="t" x="1632" y="177">pridnost</text></g>
<g id="node-invalidi"><circle class="n grey" cx="964" cy="1134" r="12"/><rect class="lb" x="932" y="1124" width="56" height="20"/><text class="t" x="960" y="1140">invalidi</text></g>
<g id="node-varcnost"><circle class="n teal" cx="1385" cy="144" r="11"/><rect class="lb" x="1293.5" y="145" width="153" height="20"/><text class="t" x="1370" y="161">varčnost/skromnost</text></g>
<g id="node-sposobnost"><circle class="n grey" cx="1513" cy="675" r="11"/><rect class="lb" x="1458" y="675" width="158" height="20"/><text class="t" x="1537" y="691">sposobnost politikov</text></g>
<g id="node-spostovanje"><circle class="n teal" cx="1505" cy="393" r="10"/><rect class="lb" x="1446.5" y="398" width="97" height="20"/><text class="t" x="1495" y="414">spoštovanje</text></g>
<g id="node-nostalgija"><circle class="n grey" cx="700" cy="1026" r="9"/><rect class="lb" x="661" y="1016" width="78" height="20"/><text class="t" x="700" y="1032">nostalgija</text></g>
</g>
</svg>
